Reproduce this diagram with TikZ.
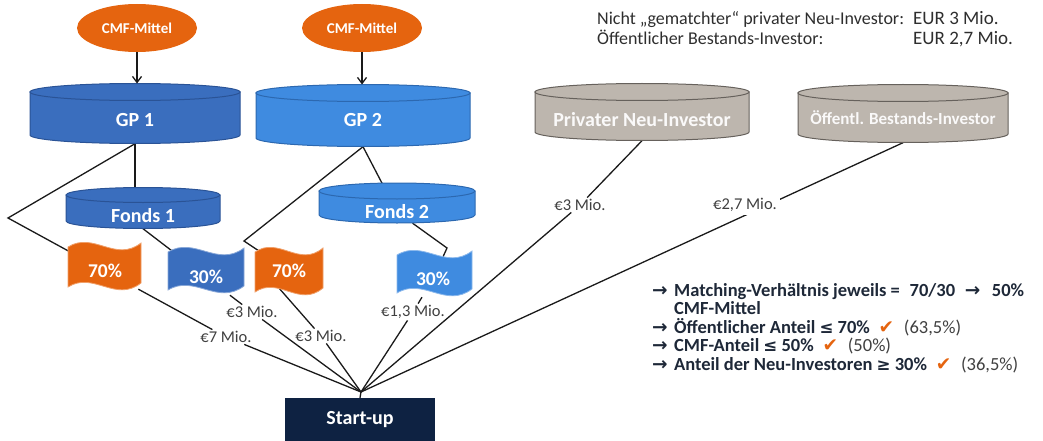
\documentclass[tikz,border=0pt]{standalone}
\usepackage{fontspec}
\setmainfont{Carlito}
\newfontfamily\djv{DejaVu Sans}
\newfontfamily\djvs[Scale=0.9]{DejaVu Sans}
\usetikzlibrary{shapes.geometric,arrows.meta,calc}
\pgfdeclarelayer{bg}
\pgfsetlayers{bg,main}
\definecolor{cmfo}{HTML}{E5640F}
\definecolor{cmfoL}{HTML}{F0A06A}
\definecolor{gpa}{HTML}{3A6EBE}
\definecolor{gpaD}{HTML}{2A5396}
\definecolor{gpb}{HTML}{3F8BE0}
\definecolor{gpbD}{HTML}{2C68B0}
\definecolor{invg}{HTML}{BDB6AE}
\definecolor{invgD}{HTML}{66615C}
\definecolor{navy}{HTML}{0E2242}
\definecolor{txtd}{HTML}{2E2E2E}
\definecolor{lstc}{HTML}{1E2838}
\definecolor{lblc}{HTML}{404040}
\definecolor{lin}{HTML}{1A1A1A}
% cylinder: cx, rx, y top-ellipse centre, y bottom-ellipse centre, ry, style
\newcommand\cylbody[6]{%
  \path[#6] ({#1-#2},#3) -- ({#1-#2},#4) arc[start angle=180,end angle=360,x radius=#2pt,y radius=#5pt] -- ({#1+#2},#3) -- cycle;
  \path[#6] (#1,#3) ellipse[x radius=#2pt,y radius=#5pt];}
% wave flag: x1, x2, top, height, style
\newcommand\flagshape[5]{%
  \path[#5] (#1,{#3+4}) .. controls ({#1+0.35*(#2-#1)},{#3-12}) and ({#1+0.65*(#2-#1)},{#3+20}) .. (#2,#3)
    -- (#2,{#3+#4}) .. controls ({#1+0.65*(#2-#1)},{#3+20+#4}) and ({#1+0.35*(#2-#1)},{#3-12+#4}) .. (#1,{#3+4+#4}) -- cycle;}
\begin{document}
\begin{tikzpicture}[x=1pt,y=-1pt,
  cyltext/.style={text=white,font=\fontsize{20}{24}\selectfont\bfseries,inner sep=0pt},
  cyla/.style={fill=gpa,draw=gpaD,line width=1pt},
  cylb/.style={fill=gpb,draw=gpbD,line width=1pt},
  cylg/.style={fill=invg,draw=invgD,line width=1pt},
  conn/.style={draw=lin,line width=1.3pt},
  arr/.style={draw=lin,line width=1.3pt,-{Straight Barb[length=6pt,width=9pt]}},
  lbl/.style={font=\fontsize{16.5}{19}\selectfont,text=lblc,inner sep=1.5pt},
  flagtext/.style={text=white,font=\fontsize{19.5}{22}\selectfont\bfseries,inner sep=0pt,minimum width=70pt,minimum height=36pt},
  cmf/.style={ellipse,fill=cmfo,text=white,font=\fontsize{15}{18}\selectfont\bfseries,minimum width=120pt,minimum height=48pt,inner sep=0pt},
  toptxt/.style={anchor=base west,inner sep=0pt,text=txtd,font=\fontsize{18}{22}\selectfont},
  lst/.style={anchor=base west,inner sep=0pt,text=lstc,font=\fontsize{18.5}{20}\selectfont\bfseries}]
\useasboundingbox (0,0) rectangle (1043,441);

% ---- cylinders
\cylbody{135}{105}{92}{135}{8.5}{cyla}
\node[cyltext,minimum width=210pt,minimum height=47pt] (gp1) at (135,120) {GP 1};
\coordinate (gp1t) at (137,83.5);
\cylbody{363}{107}{93}{138}{8.5}{cylb}
\node[cyltext,minimum width=214pt,minimum height=53pt] (gp2) at (363,120) {GP 2};
\coordinate (gp2t) at (362,84.5);
\cylbody{143}{77}{195}{221}{7.5}{cyla}
\node[cyltext,minimum width=154pt,minimum height=25pt] (fonds1) at (143,216) {Fonds 1};
\cylbody{397}{78}{191}{215}{8}{cylb}
\node[cyltext,minimum width=156pt,minimum height=22pt] (fonds2) at (397,212) {Fonds 2};
\cylbody{642}{107}{92}{132}{8.5}{cylg}
\node[cyltext,text=white!92!invg,minimum width=214pt,minimum height=41pt] (priv) at (642,120) {Privater Neu-Investor};
\cylbody{903}{105}{93}{134}{8.5}{cylg}
\node[cyltext,text=white!92!invg,font=\fontsize{17}{20}\selectfont\bfseries,minimum width=210pt,minimum height=49pt] (oeff) at (903,118) {Öffentl. Bestands-Investor};

% ---- CMF sources
\node[cmf] (cmf1) at (137,28) {CMF-Mittel};
\node[cmf] (cmf2) at (362,28) {CMF-Mittel};
\draw[arr] (cmf1) -- (gp1t);
\draw[arr] (cmf2) -- (gp2t);

% ---- flags
\flagshape{68}{141}{243}{40}{fill=cmfo,draw=cmfoL,line width=0.8pt}
\node[flagtext] (fo1) at (105,271) {70\%};
\flagshape{168}{244}{248}{38}{fill=gpa,draw=gpa!60!white,line width=0.8pt}
\node[flagtext] (fb1) at (206,277) {30\%};
\flagshape{255}{323}{248}{40}{fill=cmfo,draw=cmfoL,line width=0.8pt}
\node[flagtext] (fo2) at (289,271) {70\%};
\flagshape{397}{472}{251}{38}{fill=gpb,draw=gpb!60!white,line width=0.8pt}
\node[flagtext] (fb2) at (433,279) {30\%};

% ---- start-up
\node[fill=navy,text=white,font=\fontsize{20}{24}\selectfont\bfseries,minimum width=150pt,minimum height=44pt,inner sep=0pt] (su) at (360,420) {Start-up};
\coordinate (hub) at (361,392);

% ---- amount labels
\node[lbl] (l7) at (226,337) {€7 Mio.};
\node[lbl] (l3a) at (252,312) {€3 Mio.};
\node[lbl] (l3b) at (321,336) {€3 Mio.};
\node[lbl] (l13) at (413,312) {€1,3 Mio.};
\node[lbl] (l3c) at (580,205) {€3 Mio.};
\node[lbl,fill=white,inner sep=3pt] (l27) at (745,205) {€2,7 Mio.};

% ---- connectors (behind)
\coordinate (k1) at (8,218);
\coordinate (k2) at (244,241);
\coordinate (k3) at (447,248);
\begin{pgfonlayer}{bg}
\draw[conn] (gp1.south) -- (gp1.south |- fonds1.center);
\draw[conn] (gp1.south) -- (k1) -- (fo1);
\draw[conn] (fonds1.south) -- (fb1);
\draw[conn] (fo1) -- (l7) -- (hub);
\draw[conn] (fb1) -- (l3a) -- (hub);
\draw[conn] (gp2.south) -- (k2) -- (fo2);
\draw[conn] (gp2.south) -- (fonds2);
\draw[conn] ([xshift=-25pt]fo2.center) -- (l3b) -- (hub);
\draw[conn] (fonds2) -- (k3) -- (fb2);
\draw[conn] (fb2) -- (l13) -- (hub);
\draw[conn] (priv.south) -- (l3c) -- (hub);
\draw[conn] (oeff.south) -- (hub);
\draw[conn] (hub) -- (su.north);
\end{pgfonlayer}

% ---- top right text
\node[toptxt] (t1) at (597,25) {Nicht „gematchter“ privater Neu-Investor:};
\node[toptxt,font=\fontsize{19}{22}\selectfont] (t1b) at (913,25) {EUR 3 Mio.};
\node[toptxt] (t2) at (597,45) {Öffentlicher Bestands-Investor:};
\node[toptxt,font=\fontsize{19}{22}\selectfont] (t2b) at (913,45) {EUR 2,7 Mio.};

% ---- bottom right list
\node[lst] (a1) at (652,296) {\djv →};
\node[lst] (m1) at (674,296) {Matching-Verhältnis jeweils = \hspace{0.3em}70/30 \hspace{0.3em}{\djv →} \hspace{0.4em}50\%};
\node[lst] (m2) at (674,314.5) {CMF-Mittel};
\node[lst] (a3) at (652,333) {\djv →};
\node[lst] (m3) at (674,333) {Öffentlicher Anteil {\djvs ≤} 70\% \hspace{0.25em}{\color{cmfo}\djv ✔} \hspace{0.3em}{\mdseries\color{lblc}(63,5\%)}};
\node[lst] (a4) at (652,351.5) {\djv →};
\node[lst] (m4) at (674,351.5) {CMF-Anteil {\djvs ≤} 50\% \hspace{0.25em}{\color{cmfo}\djv ✔} \hspace{0.3em}{\mdseries\color{lblc}(50\%)}};
\node[lst] (a5) at (652,370) {\djv →};
\node[lst] (m5) at (674,370) {Anteil der Neu-Investoren {\djvs ≥} 30\% \hspace{0.25em}{\color{cmfo}\djv ✔} \hspace{0.3em}{\mdseries\color{lblc}(36,5\%)}};
\end{tikzpicture}
\end{document}
